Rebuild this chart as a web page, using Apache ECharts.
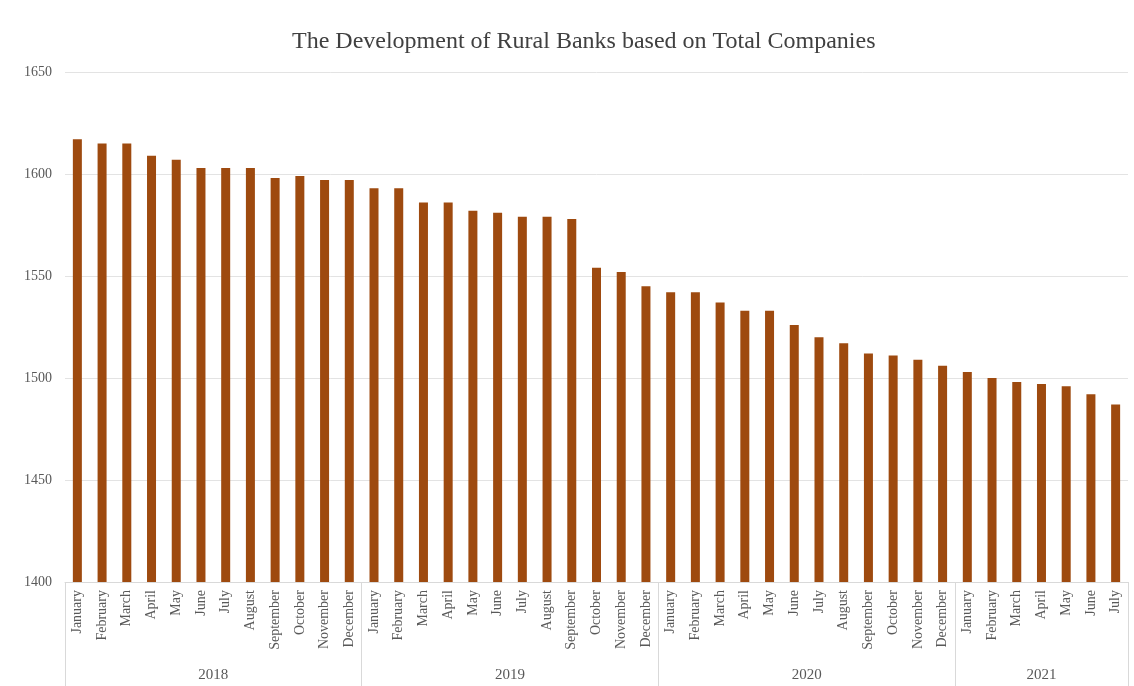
<!DOCTYPE html>
<html>
<head>
<meta charset="utf-8">
<script src="https://cdn.jsdelivr.net/npm/echarts@6.0.0/dist/echarts.min.js"></script>
<style>
  html, body { margin: 0; padding: 0; background: #fff; }
  #chart { width: 1134px; height: 686px; }
</style>
</head>
<body>
<div id="chart"></div>
<script>
// Data
const monthNames = ['January', 'February', 'March', 'April', 'May', 'June', 'July',
    'August', 'September', 'October', 'November', 'December'];
const years = ['2018', '2019', '2020', '2021'];
const monthsPerYear = [12, 12, 12, 7];

const values2018 = [1617, 1615, 1615, 1609, 1607, 1603, 1603, 1603, 1598, 1599, 1597, 1597];
const values2019 = [1593, 1593, 1586, 1586, 1582, 1581, 1579, 1579, 1578, 1554, 1552, 1545];
const values2020 = [1542, 1542, 1537, 1533, 1533, 1526, 1520, 1517, 1512, 1511, 1509, 1506];
const values2021 = [1503, 1500, 1498, 1497, 1496, 1492, 1487];

const yTicks = [1400, 1450, 1500, 1550, 1600, 1650];

// build category list and values
const categories = [];
monthsPerYear.forEach(n => {
    for (let i = 0; i < n; i++) categories.push(monthNames[i]);
});
const values = values2018.concat(values2019, values2020, values2021);

// year boundaries and midpoints (in category units)
const boundaries = [0];
const mids = [];
monthsPerYear.forEach(n => {
    const start = boundaries[boundaries.length - 1];
    mids.push(start + n / 2);
    boundaries.push(start + n);
});

const fontFamily = '"Liberation Serif", "DejaVu Serif", serif';
const textColor = '#595959';
const lineColor = '#d9d9d9';

const chart = echarts.init(document.getElementById('chart'));

chart.setOption({
    backgroundColor: '#fff',
    animation: false,
    title: {
        text: 'The Development of Rural Banks based on Total Companies',
        left: 287,
        top: 25,
        textStyle: { fontFamily: fontFamily, fontSize: 24, fontWeight: 'normal', color: '#404040' }
    },
    grid: { left: 65, right: 6, top: 72, bottom: 104 },
    xAxis: [
        {
            type: 'category',
            data: categories,
            axisLine: { lineStyle: { color: lineColor } },
            axisTick: { show: false },
            axisLabel: {
                rotate: 90,
                interval: 0,
                margin: 8,
                fontFamily: fontFamily,
                fontSize: 14,
                color: textColor
            }
        },
        {
            type: 'value',
            position: 'bottom',
            offset: 104,
            min: 0,
            max: categories.length,
            axisLine: { show: false },
            splitLine: { show: false },
            axisTick: {
                show: true,
                inside: true,
                length: 104,
                customValues: boundaries,
                lineStyle: { color: lineColor }
            },
            axisLabel: {
                inside: true,
                margin: 3,
                customValues: mids,
                formatter: function (v) {
                    const i = mids.indexOf(v);
                    return i >= 0 ? years[i] : '';
                },
                fontFamily: fontFamily,
                fontSize: 15,
                color: textColor
            }
        }
    ],
    yAxis: {
        type: 'value',
        min: yTicks[0],
        max: yTicks[yTicks.length - 1],
        interval: 50,
        axisLine: { show: false },
        axisTick: { show: false },
        axisLabel: {
            fontFamily: fontFamily,
            fontSize: 14,
            color: textColor,
            margin: 13,
            formatter: v => String(v)
        },
        splitLine: { lineStyle: { color: '#e3e3e3' } }
    },
    series: [{
        type: 'bar',
        data: values,
        barWidth: 9,
        itemStyle: { color: '#9e4a0f' }
    }]
});
</script>
</body>
</html>
